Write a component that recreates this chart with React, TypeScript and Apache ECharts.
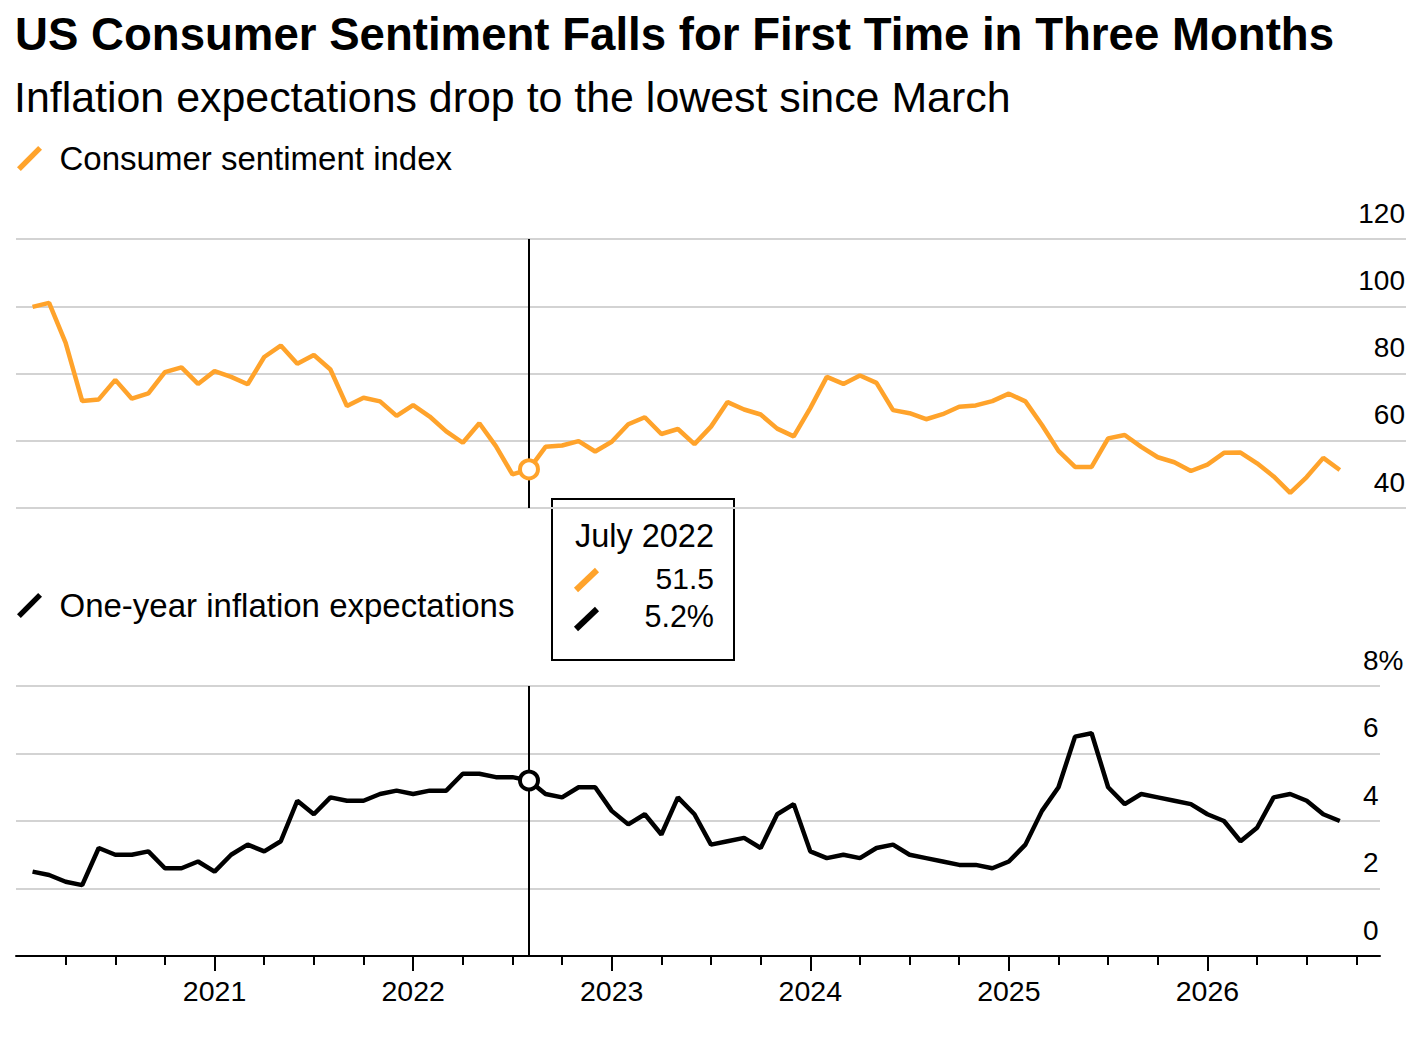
import React, { useEffect, useRef } from "react";
import * as echarts from "echarts";

// ---------- DATA ----------
const startYear = 2020; // first observation: January 2020
const monthNames = ["January", "February", "March", "April", "May", "June", "July", "August", "September", "October", "November", "December"];

const sentiment = [
  99.8, 101.0, 89.1, 71.8, 72.3, 78.1, 72.5, 74.1, 80.4, 81.8, 76.9, 80.7,
  79.0, 76.8, 84.9, 88.3, 82.9, 85.5, 81.2, 70.3, 72.8, 71.7, 67.4, 70.6,
  67.2, 62.8, 59.4, 65.2, 58.4, 50.0, 51.5, 58.2, 58.6, 59.9, 56.8, 59.7,
  64.9, 67.0, 62.0, 63.5, 59.0, 64.2, 71.5, 69.3, 67.8, 63.6, 61.3, 69.7,
  79.0, 76.9, 79.4, 77.2, 69.1, 68.2, 66.4, 67.9, 70.1, 70.5, 71.8, 74.0,
  71.7, 64.7, 57.0, 52.2, 52.2, 60.7, 61.7, 58.2, 55.1, 53.6, 51.0, 52.9,
  56.4, 56.5, 53.3, 49.4, 44.5, 49.2, 54.9, 51.3,
];

const inflation = [
  2.5, 2.4, 2.2, 2.1, 3.2, 3.0, 3.0, 3.1, 2.6, 2.6, 2.8, 2.5,
  3.0, 3.3, 3.1, 3.4, 4.6, 4.2, 4.7, 4.6, 4.6, 4.8, 4.9, 4.8,
  4.9, 4.9, 5.4, 5.4, 5.3, 5.3, 5.2, 4.8, 4.7, 5.0, 5.0, 4.3,
  3.9, 4.2, 3.6, 4.7, 4.2, 3.3, 3.4, 3.5, 3.2, 4.2, 4.5, 3.1,
  2.9, 3.0, 2.9, 3.2, 3.3, 3.0, 2.9, 2.8, 2.7, 2.7, 2.6, 2.8,
  3.3, 4.3, 5.0, 6.5, 6.6, 5.0, 4.5, 4.8, 4.7, 4.6, 4.5, 4.2,
  4.0, 3.4, 3.8, 4.7, 4.8, 4.6, 4.2, 4.0,
];

const seriesNames = ["Consumer sentiment index", "One-year inflation expectations"];
const titleText = "US Consumer Sentiment Falls for First Time in Three Months";
const subtitleText = "Inflation expectations drop to the lowest since March";

const yearLabels = ["2021", "2022", "2023", "2024", "2025", "2026"];
const yearTickValues = [12, 24, 36, 48, 60, 72]; // months since Jan 2020
const quarterTickValues = [3, 6, 9, 15, 18, 21, 27, 30, 33, 39, 42, 45, 51, 54, 57, 63, 66, 69, 75, 78, 81];

const hoverIndex = 30; // July 2022

// ---------- STYLE ----------
const ORANGE = "#FFA32B";
const GRID = "#d3d3d3";
const FONT = "'Liberation Sans', Arial, Helvetica, sans-serif";

const TOP_LEFT = 16;
const TOP_WIDTH = 1390;
const BOT_WIDTH = 1364;
const X_MAX_TOP = 84;
const X_MAX_BOT = (X_MAX_TOP * BOT_WIDTH) / TOP_WIDTH;

const slashIcon = "path://M0,22L22,0L26,4L4,26Z";

export default function App() {
  const ref = useRef<HTMLDivElement>(null);

  useEffect(() => {
    document.body.style.margin = "0";
    if (!ref.current) return;
    const chart = echarts.init(ref.current, null, { renderer: "svg" });

    // x position of each observation: end of month (months since Jan 1, 2020)
    const sentData = sentiment.map((v, i) => [i + 1, v]);
    const inflData = inflation.map((v, i) => [i + 1, v]);
    const hoverX = hoverIndex + 1;
    const hoverLabel = `${monthNames[hoverIndex % 12]} ${startYear + Math.floor(hoverIndex / 12)}`;

    const legendText = { fontSize: 33, color: "#000", fontFamily: FONT, padding: [0, 0, 0, 12], lineHeight: 25 };

    const option: any = {
      animation: false,
      backgroundColor: "#fff",
      textStyle: { fontFamily: FONT },
      title: [
        {
          text: titleText,
          left: 15,
          top: 12,
          padding: 0,
          textStyle: { fontSize: 45.6, fontWeight: "bold", color: "#000", lineHeight: 45.6, fontFamily: FONT },
        },
        {
          text: subtitleText,
          left: 14,
          top: 76,
          padding: 0,
          textStyle: { fontSize: 42.9, fontWeight: "normal", color: "#000", lineHeight: 42.9, fontFamily: FONT },
        },
      ],
      legend: [
        {
          data: [seriesNames[0]],
          left: 17,
          top: 142,
          padding: 0,
          icon: slashIcon,
          itemWidth: 26,
          itemHeight: 25,
          selectedMode: false,
          textStyle: legendText,
        },
        {
          data: [seriesNames[1]],
          left: 17,
          top: 589,
          padding: 0,
          icon: slashIcon,
          itemWidth: 26,
          itemHeight: 25,
          selectedMode: false,
          textStyle: legendText,
        },
      ],
      grid: [
        { left: TOP_LEFT, top: 239, width: TOP_WIDTH, height: 269 },
        { left: TOP_LEFT, top: 686, width: BOT_WIDTH, height: 270 },
      ],
      xAxis: [
        { gridIndex: 0, type: "value", min: 0, max: X_MAX_TOP, show: false },
        {
          gridIndex: 1,
          type: "value",
          min: 0,
          max: X_MAX_BOT,
          position: "bottom",
          axisLine: { show: true, onZero: false, lineStyle: { color: "#000", width: 2 } },
          axisTick: { show: true, customValues: quarterTickValues, length: 9, lineStyle: { color: "#000", width: 2 } },
          axisLabel: { show: false },
          splitLine: { show: false },
        },
        {
          gridIndex: 1,
          type: "value",
          min: 0,
          max: X_MAX_BOT,
          position: "bottom",
          axisLine: { show: false, onZero: false },
          axisTick: { show: true, customValues: yearTickValues, length: 15, lineStyle: { color: "#000", width: 2 } },
          axisLabel: {
            show: true,
            customValues: yearTickValues,
            formatter: (v: number) => {
              const i = yearTickValues.indexOf(Math.round(v));
              return i >= 0 ? yearLabels[i] : "";
            },
            fontSize: 28.5,
            lineHeight: 28.5,
            color: "#000",
            margin: 21,
            fontFamily: FONT,
          },
          splitLine: { show: false },
        },
      ],
      yAxis: [
        {
          gridIndex: 0,
          type: "value",
          position: "right",
          min: 40,
          max: 120,
          interval: 20,
          axisLine: { show: false },
          axisTick: { show: false },
          splitLine: { show: true, lineStyle: { color: GRID, width: 2 } },
          axisLabel: {
            inside: true,
            margin: 1,
            verticalAlign: "bottom",
            lineHeight: 52,
            fontSize: 28,
            color: "#000",
            fontFamily: FONT,
            showMinLabel: true,
            showMaxLabel: true,
          },
        },
        {
          gridIndex: 1,
          type: "value",
          position: "right",
          min: 0,
          max: 8,
          interval: 2,
          axisLine: { show: false },
          axisTick: { show: false },
          splitLine: { show: true, lineStyle: { color: GRID, width: 2 } },
          axisLabel: {
            inside: true,
            margin: 17,
            align: "left",
            verticalAlign: "bottom",
            lineHeight: 52,
            fontSize: 28,
            color: "#000",
            fontFamily: FONT,
            showMinLabel: true,
            showMaxLabel: true,
            formatter: (v: number) => (v === 8 ? `${v}%` : `${v}`),
          },
        },
      ],
      series: [
        {
          name: seriesNames[0],
          type: "line",
          xAxisIndex: 0,
          yAxisIndex: 0,
          data: sentData,
          color: ORANGE,
          showSymbol: false,
          symbol: "none",
          lineStyle: { color: ORANGE, width: 4.5 },
          z: 3,
          markLine: {
            silent: true,
            symbol: ["none", "none"],
            label: { show: false },
            lineStyle: { color: "#000", width: 2, type: "solid" },
            data: [{ xAxis: hoverX }],
            z: 2,
          },
        },
        {
          name: "sentiment-hover",
          type: "scatter",
          xAxisIndex: 0,
          yAxisIndex: 0,
          data: [[hoverX, sentiment[hoverIndex]]],
          symbol: "circle",
          symbolSize: 18,
          itemStyle: { color: "#fff", borderColor: ORANGE, borderWidth: 4, opacity: 1 },
          z: 5,
          silent: true,
        },
        {
          name: seriesNames[1],
          type: "line",
          xAxisIndex: 1,
          yAxisIndex: 1,
          data: inflData,
          color: "#000",
          showSymbol: false,
          symbol: "none",
          lineStyle: { color: "#000", width: 4.5 },
          z: 3,
          markLine: {
            silent: true,
            symbol: ["none", "none"],
            label: { show: false },
            lineStyle: { color: "#000", width: 2, type: "solid" },
            data: [{ xAxis: hoverX }],
            z: 2,
          },
        },
        {
          name: "inflation-hover",
          type: "scatter",
          xAxisIndex: 1,
          yAxisIndex: 1,
          data: [[hoverX, inflation[hoverIndex]]],
          symbol: "circle",
          symbolSize: 18,
          itemStyle: { color: "#fff", borderColor: "#000", borderWidth: 4, opacity: 1 },
          z: 5,
          silent: true,
        },
      ],
      graphic: [
        {
          type: "group",
          z: 100,
          children: [
            {
              type: "rect",
              shape: { x: 552, y: 499, width: 182, height: 161 },
              style: { fill: "#fff", stroke: "#000", lineWidth: 2 },
            },
            {
              type: "text",
              x: 714,
              y: 536,
              style: {
                text: hoverLabel,
                fill: "#000",
                fontSize: 32.5,
                fontFamily: FONT,
                textAlign: "right",
                textVerticalAlign: "middle",
              },
            },
            {
              type: "line",
              shape: { x1: 576, y1: 590, x2: 597, y2: 570 },
              style: { stroke: ORANGE, lineWidth: 6 },
            },
            {
              type: "text",
              x: 714,
              y: 578,
              style: {
                text: sentiment[hoverIndex].toFixed(1),
                fill: "#000",
                fontSize: 30,
                fontFamily: FONT,
                textAlign: "right",
                textVerticalAlign: "middle",
              },
            },
            {
              type: "line",
              shape: { x1: 576, y1: 629, x2: 597, y2: 609 },
              style: { stroke: "#000", lineWidth: 6 },
            },
            {
              type: "text",
              x: 714,
              y: 616,
              style: {
                text: `${inflation[hoverIndex].toFixed(1)}%`,
                fill: "#000",
                fontSize: 30.5,
                fontFamily: FONT,
                textAlign: "right",
                textVerticalAlign: "middle",
              },
            },
          ],
        },
      ],
    };

    chart.setOption(option);
    return () => {
      chart.dispose();
    };
  }, []);

  return (
    <div
      ref={ref}
      style={{ position: "fixed", left: 0, top: 0, width: 1426, height: 1045, background: "#fff" }}
    />
  );
}
